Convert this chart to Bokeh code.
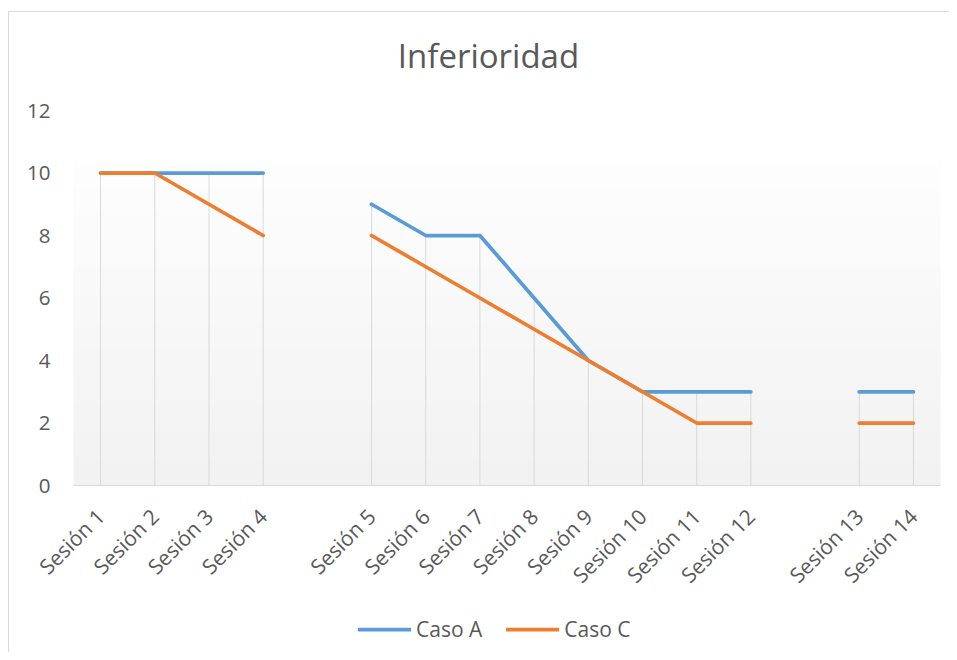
import math
import numpy as np
from bokeh.plotting import figure
from bokeh.models import Range1d, Legend, LegendItem, Label
from bokeh.core.properties import value
from bokeh.embed import file_html
from bokeh.resources import INLINE

# ---- data ----
sessions = ["Sesión 1", "Sesión 2", "Sesión 3", "Sesión 4", "",
            "Sesión 5", "Sesión 6", "Sesión 7", "Sesión 8", "Sesión 9",
            "Sesión 10", "Sesión 11", "Sesión 12", "",
            "Sesión 13", "Sesión 14"]
caso_a = [10, 10, 10, 10, None, 9, 8, 8, 6, 4, 3, 3, 3, None, 3, 3]
caso_c = [10, 10, 9, 8, None, 8, 7, 6, 5, 4, 3, 2, 2, None, 2, 2]
y_ticks = [0, 2, 4, 6, 8, 10, 12]
title_text = "Inferioridad"

xs = list(range(len(sessions)))
a_vals = [np.nan if v is None else v for v in caso_a]
c_vals = [np.nan if v is None else v for v in caso_c]
drop_x = [i for i in xs if caso_a[i] is not None]
drop_top = [max(caso_a[i], caso_c[i]) for i in drop_x]
lab_x = [i for i in xs if sessions[i]]
lab_t = [sessions[i] for i in lab_x]

FONT = "Open Sans"
TXT = "#595959"

W, H = 949, 652
# plot area (value axis 0..12) occupies px x 73..940, y 110..485 of the canvas
PL, PR, PT, PB = 73, 940, 110, 485
px_y = (PB - PT) / 12.0
px_x = (PR - PL) / len(sessions)
y_hi = 12 + PT / px_y
y_lo = -(H - PB) / px_y
x_lo = -0.5 - PL / px_x
x_hi = len(sessions) - 0.5 + (W - PR) / px_x

p = figure(width=W, height=H, output_backend="svg", toolbar_location=None,
           x_range=Range1d(x_lo, x_hi), y_range=Range1d(y_lo, y_hi),
           x_axis_location=None, y_axis_location=None,
           min_border=0)
p.styles = {"background": "linear-gradient(#d9d9d9,#d9d9d9) 8px 11px / 1px calc(100% - 11px) no-repeat, "
                          "linear-gradient(#d9d9d9,#d9d9d9) 8px 11px / calc(100% - 8px) 1px no-repeat, #ffffff"}
p.outline_line_color = None
p.background_fill_alpha = 0
p.border_fill_alpha = 0
p.xgrid.visible = False
p.ygrid.visible = False

# gradient plot-area background (decorative)
n = 120
shade = np.linspace(242, 254, n)
img = np.zeros((n, 1), dtype=np.uint32)
view = img.view(dtype=np.uint8).reshape((n, 1, 4))
view[:, 0, 0] = shade
view[:, 0, 1] = shade
view[:, 0, 2] = shade
view[:, 0, 3] = 255
p.image_rgba(image=[img], x=-0.5, y=0, dw=len(sessions), dh=10.4)

# category axis line
p.segment(x0=[-0.5], y0=[0], x1=[len(sessions) - 0.5], y1=[0],
          line_color="#d9d9d9", line_width=1)

# drop lines
p.segment(x0=drop_x, y0=[0] * len(drop_x), x1=drop_x, y1=drop_top,
          line_color="#d9d9d9", line_width=1)

ra = p.line(xs, a_vals, line_color="#5B9BD5", line_width=3.75,
            line_cap="round", line_join="round")
rc = p.line(xs, c_vals, line_color="#ED7D31", line_width=3.75,
            line_cap="round", line_join="round")

# category labels (rotated 45 degrees)
p.text(x=lab_x, y=[0] * len(lab_x), text=lab_t, angle=math.pi / 4,
       text_align="right", text_baseline="middle", x_offset=0, y_offset=27,
       text_font=value(FONT), text_font_size="21px", text_color=TXT)

# value axis labels
p.text(x=[-0.5] * len(y_ticks), y=y_ticks, text=[str(v) for v in y_ticks],
       text_align="right", text_baseline="middle", x_offset=-23,
       text_font=value(FONT), text_font_size="20.5px", text_color=TXT)

# title (centred over the chart, screen position)
p.add_layout(Label(x=488, y=H - 55, x_units="screen", y_units="screen",
                   text=title_text, text_align="center", text_baseline="alphabetic",
                   text_font=FONT, text_font_size="33px", text_color=TXT))

legend = Legend(items=[LegendItem(label="Caso A", renderers=[ra]),
                       LegendItem(label="Caso C", renderers=[rc])],
                orientation="horizontal", location=(358, 9))
legend.border_line_color = None
legend.background_fill_alpha = 0
legend.padding = 0
legend.margin = 0
legend.spacing = 24
legend.glyph_width = 53
legend.label_standoff = 5
legend.label_text_font = FONT
legend.label_text_font_size = "21px"
legend.label_text_color = TXT
p.add_layout(legend, "center")

open("out.html", "w").write(file_html(p, INLINE))
